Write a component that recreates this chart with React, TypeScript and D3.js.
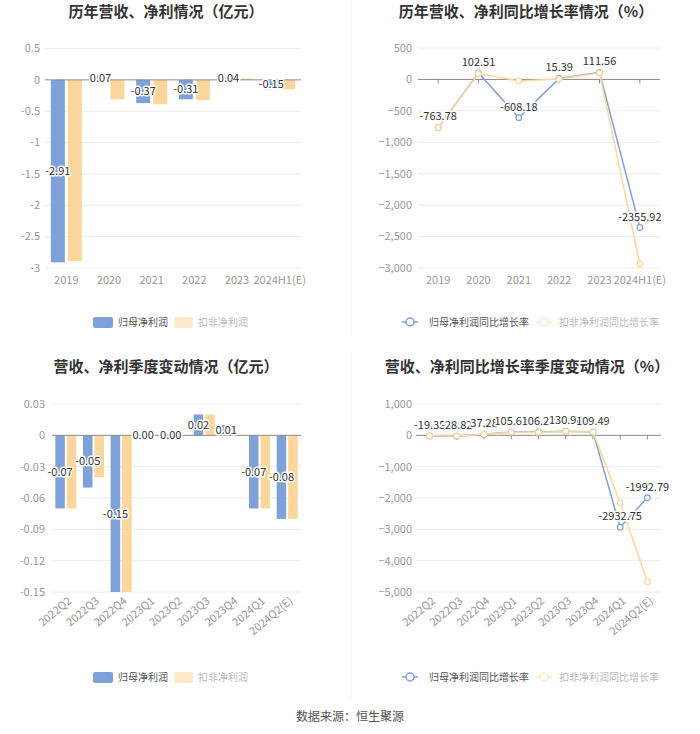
import React from "react";
import * as d3 from "d3";

// ---------- DATA ----------
const yearCats = ["2019", "2020", "2021", "2022", "2023", "2024H1(E)"];
const yearNetProfit = [-2.91, 0.07, -0.37, -0.31, 0.04, -0.15];
const yearDeductedProfit = [-2.89, -0.31, -0.39, -0.32, 0.02, -0.15];
const yearTicks = [0.5, 0, -0.5, -1, -1.5, -2, -2.5, -3];

const yearNetGrowth = [-763.78, 102.51, -608.18, 15.39, 111.56, -2355.92];
const yearDeductedGrowth = [-763.78, 95, -25, 5, 105, -2935];
const yearGrowthTicks = [500, 0, -500, -1000, -1500, -2000, -2500, -3000];

const quarterCats = ["2022Q2", "2022Q3", "2022Q4", "2023Q1", "2023Q2", "2023Q3", "2023Q4", "2024Q1", "2024Q2(E)"];
const quarterNetProfit = [-0.07, -0.05, -0.15, 0.0, 0.0, 0.02, 0.01, -0.07, -0.08];
const quarterDeductedProfit = [-0.07, -0.04, -0.15, 0.0, 0.0, 0.02, 0.0, -0.07, -0.08];
const quarterTicks = [0.03, 0, -0.03, -0.06, -0.09, -0.12, -0.15];

const quarterNetGrowth = [-19.35, -28.82, 37.28, 105.61, 106.22, 130.98, 109.49, -2932.75, -1992.79];
const quarterDeductedGrowth = [-15, -25, 35, 100, 100, 125, 105, -2150, -4670];
const quarterGrowthTicks = [1000, 0, -1000, -2000, -3000, -4000, -5000];

const titles = [
  "历年营收、净利情况（亿元）",
  "历年营收、净利同比增长率情况（%）",
  "营收、净利季度变动情况（亿元）",
  "营收、净利同比增长率季度变动情况（%）",
];
const barLegend = ["归母净利润", "扣非净利润"];
const lineLegend = ["归母净利润同比增长率", "扣非净利润同比增长率"];
const sourceText = "数据来源：恒生聚源";

// ---------- STYLE ----------
const BLUE = "#7ea1d9";
const ORANGE = "#fdd69c";
const FONT = "'Noto Sans CJK SC', 'Noto Sans', sans-serif";
const AXIS_TXT = "#999";
const GRID = "#ececec";
const ZERO = "#8a8a8a";

type BarProps = {
  cats: string[];
  a: number[];
  b: number[];
  ticks: number[];
  x0: number; x1: number; yTop: number; yBot: number;
  labelRight: number;
  barW: number; gap: number;
  fmt: (v: number) => string;
  labelFmt: (v: number) => string;
  rotate: boolean;
};

function BarChart(p: BarProps) {
  const x = d3.scaleBand<string>().domain(p.cats).range([p.x0, p.x1]);
  const y = d3.scaleLinear().domain([d3.min(p.ticks)!, d3.max(p.ticks)!]).range([p.yBot, p.yTop]);
  const bw = x.bandwidth();
  const y0 = y(0);
  return (
    <g fontFamily={FONT}>
      {p.ticks.map((t) => (
        <g key={t}>
          {t !== 0 && <line x1={p.x0} x2={p.x1} y1={y(t)} y2={y(t)} stroke={GRID} />}
          <text x={p.labelRight} y={y(t)} dy="0.35em" textAnchor="end" fontSize={11} fill={AXIS_TXT}>
            {p.fmt(t)}
          </text>
        </g>
      ))}
      {p.cats.map((c, i) => {
        const cx = x(c)! + bw / 2;
        const va = p.a[i], vb = p.b[i];
        return (
          <g key={c}>
            <rect x={cx - p.gap / 2 - p.barW} width={p.barW} y={Math.min(y(va), y0)} height={Math.abs(y(va) - y0)} fill={BLUE} />
            <rect x={cx + p.gap / 2} width={p.barW} y={Math.min(y(vb), y0)} height={Math.abs(y(vb) - y0)} fill={ORANGE} />
          </g>
        );
      })}
      <line x1={p.x0} x2={p.x1} y1={y0} y2={y0} stroke={ZERO} />
      {p.cats.map((c, i) => {
        const cx = x(c)! + bw / 2 - p.gap / 2 - p.barW / 2;
        const va = p.a[i];
        const ly = (y(va) + y0) / 2;
        return (
          <text key={c} x={cx} y={ly} dy="0.35em" textAnchor="middle" fontSize={11} fill="#333"
            stroke="#fff" strokeWidth={3} paintOrder="stroke" strokeLinejoin="round">
            {p.labelFmt(va)}
          </text>
        );
      })}
      {p.cats.map((c) => {
        const cx = x(c)! + bw / 2;
        return p.rotate ? (
          <text key={c} transform={`translate(${cx + 4},${p.yBot + 7}) rotate(-40)`} textAnchor="end" dy="0.35em"
            fontSize={11} fill={AXIS_TXT}>{c}</text>
        ) : (
          <text key={c} x={cx} y={p.yBot + 16} textAnchor="middle" fontSize={11} fill={AXIS_TXT}>{c}</text>
        );
      })}
    </g>
  );
}

type LineProps = {
  cats: string[];
  a: number[];
  b: number[];
  ticks: number[];
  x0: number; x1: number; yTop: number; yBot: number;
  labelRight: number;
  rotate: boolean;
};

function LineChart(p: LineProps) {
  const x = d3.scalePoint<string>().domain(p.cats).range([p.x0, p.x1]).padding(0.5);
  const y = d3.scaleLinear().domain([d3.min(p.ticks)!, d3.max(p.ticks)!]).range([p.yBot, p.yTop]);
  const y0 = y(0);
  const fmt = d3.format(",");
  const line = d3.line<number>().x((_, i) => x(p.cats[i])!).y((v) => y(v));
  return (
    <g fontFamily={FONT}>
      {p.ticks.map((t) => (
        <g key={t}>
          {t !== 0 && <line x1={p.x0} x2={p.x1} y1={y(t)} y2={y(t)} stroke={GRID} />}
          <text x={p.labelRight} y={y(t)} dy="0.35em" textAnchor="end" fontSize={11} fill={AXIS_TXT}>
            {fmt(t)}
          </text>
        </g>
      ))}
      <line x1={p.x0} x2={p.x1} y1={y0} y2={y0} stroke={ZERO} />
      {p.cats.map((c) => (
        <line key={c} x1={x(c)!} x2={x(c)!} y1={y0} y2={y0 + 4} stroke={ZERO} />
      ))}
      <path d={line(p.a)!} fill="none" stroke={BLUE} strokeWidth={1.5} />
      {p.a.map((v, i) => (
        <circle key={i} cx={x(p.cats[i])!} cy={y(v)} r={2.8} fill="#fff" stroke={BLUE} strokeWidth={1.2} />
      ))}
      <path d={line(p.b)!} fill="none" stroke={ORANGE} strokeWidth={1.5} />
      {p.b.map((v, i) => (
        <circle key={i} cx={x(p.cats[i])!} cy={y(v)} r={2.8} fill="#fff" stroke={ORANGE} strokeWidth={1.2} />
      ))}
      {p.a.map((v, i) => (
        <text key={i} x={x(p.cats[i])!} y={y(v) - 7} textAnchor="middle" fontSize={11} fill="#333"
          stroke="#fff" strokeWidth={3} paintOrder="stroke" strokeLinejoin="round">
          {v.toFixed(2)}
        </text>
      ))}
      {p.cats.map((c) => {
        const cx = x(c)!;
        return p.rotate ? (
          <text key={c} transform={`translate(${cx + 4},${p.yBot + 7}) rotate(-40)`} textAnchor="end" dy="0.35em"
            fontSize={11} fill={AXIS_TXT}>{c}</text>
        ) : (
          <text key={c} x={cx} y={p.yBot + 16} textAnchor="middle" fontSize={11} fill={AXIS_TXT}>{c}</text>
        );
      })}
    </g>
  );
}

function BarLegend({ y }: { y: number }) {
  return (
    <g fontFamily={FONT} fontSize={10}>
      <rect x={93} y={y - 5} width={20} height={11} rx={2} fill={BLUE} />
      <text x={118} y={y} dy="0.35em" fill="#555">{barLegend[0]}</text>
      <rect x={174} y={y - 5} width={19} height={11} rx={2} fill="#fde9cc" />
      <text x={198} y={y} dy="0.35em" fill="#bbb">{barLegend[1]}</text>
    </g>
  );
}

function LineLegend({ y }: { y: number }) {
  return (
    <g fontFamily={FONT} fontSize={10}>
      <line x1={402} x2={418} y1={y} y2={y} stroke={BLUE} strokeWidth={1.5} />
      <circle cx={410} cy={y} r={4} fill="#fff" stroke={BLUE} strokeWidth={1.5} />
      <text x={429} y={y} dy="0.35em" fill="#555">{lineLegend[0]}</text>
      <line x1={536} x2={552} y1={y} y2={y} stroke="#fde9cc" strokeWidth={1.5} />
      <circle cx={544} cy={y} r={4} fill="#fff" stroke="#fde9cc" strokeWidth={1.5} />
      <text x={559} y={y} dy="0.35em" fill="#bbb">{lineLegend[1]}</text>
    </g>
  );
}

export default function App() {
  return (
    <svg width={700} height={734} style={{ position: "absolute", left: 0, top: 0, background: "#fff" }}>
      <rect width={700} height={734} fill="#fff" />
      <line x1={351} x2={351} y1={0} y2={336} stroke="#f3f3f3" />
      <line x1={351} x2={351} y1={352} y2={700} stroke="#f3f3f3" />
      <g fontFamily={FONT} fontWeight="bold" fontSize={15} fill="#333" textAnchor="middle">
        <text x={166} y={12} dy="0.35em">{titles[0]}</text>
        <text x={526} y={12} dy="0.35em">{titles[1]}</text>
        <text x={166} y={367} dy="0.35em">{titles[2]}</text>
        <text x={527} y={367} dy="0.35em">{titles[3]}</text>
      </g>
      <BarChart cats={yearCats} a={yearNetProfit} b={yearDeductedProfit} ticks={yearTicks}
        x0={45} x1={301} yTop={48.5} yBot={268} labelRight={40} barW={14} gap={3}
        fmt={(v) => String(v)} labelFmt={(v) => v.toFixed(2)} rotate={false} />
      <LineChart cats={yearCats} a={yearNetGrowth} b={yearDeductedGrowth} ticks={yearGrowthTicks}
        x0={418} x1={660} yTop={48} yBot={268} labelRight={412} rotate={false} />
      <BarChart cats={quarterCats} a={quarterNetProfit} b={quarterDeductedProfit} ticks={quarterTicks}
        x0={52} x1={301} yTop={404} yBot={592} labelRight={45} barW={9.5} gap={2}
        fmt={(v) => (v === 0 ? "0" : v.toFixed(2))} labelFmt={(v) => v.toFixed(2)} rotate={true} />
      <LineChart cats={quarterCats} a={quarterNetGrowth} b={quarterDeductedGrowth} ticks={quarterGrowthTicks}
        x0={416} x1={661} yTop={404} yBot={592} labelRight={412} rotate={true} />
      <BarLegend y={322} />
      <LineLegend y={322} />
      <BarLegend y={677} />
      <LineLegend y={677} />
      <text x={350} y={717} dy="0.35em" textAnchor="middle" fontFamily={FONT} fontSize={12} fill="#555">
        {sourceText}
      </text>
    </svg>
  );
}
